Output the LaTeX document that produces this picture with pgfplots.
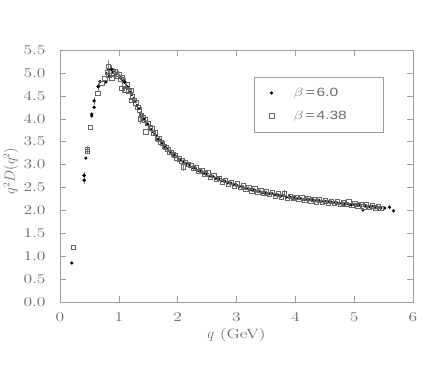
\documentclass[border=0pt]{standalone}
\usepackage{fontspec}
\setmainfont{Latin Modern Roman}[FakeStretch=1.3]
\newfontfamily\legfont{Liberation Sans}[FakeStretch=1.3]
\usepackage{pgfplots}
\pgfplotsset{compat=1.18}
\definecolor{axgray}{gray}{0.62}
\definecolor{txtgray}{gray}{0.42}
\definecolor{sqgray}{gray}{0.4}
\pgfplotsset{
    dotstyle/.style={only marks, mark=*, mark size=1.4bp, black},
    sqstyle/.style={only marks, mark=square, mark size=2.2bp, sqgray, mark options={line width=0.5bp}},
    errstyle/.style={error bars/.cd, y dir=both, y explicit,
        error bar style={gray, line width=0.4bp}, error mark options={gray, mark size=1.6bp, line width=0.4bp}},
}
\newcommand{\legb}[1]{\makebox[72bp][l]{\scalebox{1.35}[1]{$\beta$}\,=\,#1}}
\begin{document}
\begin{tikzpicture}
\begin{axis}[
    scale only axis,
    width=353bp, height=252bp,
    xmin=0, xmax=6, ymin=0, ymax=5.5,
    xtick={0,1,2,3,4,5,6},
    ytick={0,0.5,1,1.5,2,2.5,3,3.5,4,4.5,5,5.5},
    tick align=inside,
    major tick length=6bp,
    axis line style={axgray},
    every tick/.style={axgray},
    /pgf/number format/assume math mode=true,
    every tick label/.append style={font=\fontsize{13.5}{15}\selectfont, text=txtgray},
    xticklabel style={yshift=-7bp},
    yticklabel style={xshift=-11bp, /pgf/number format/.cd, fixed, fixed zerofill, precision=1},
    label style={font=\fontsize{13.5}{15}\selectfont, text=txtgray},
    xlabel={$q$ (GeV)},
    ylabel={$q^2D(q^2)$},
    xlabel style={at={(axis description cs:0.5,-0.13)}, anchor=center},
    ylabel style={at={(axis description cs:-0.139,0.52)}, anchor=center},
    legend style={at={(0.55,0.893)}, anchor=north west, draw=axgray,
        font=\legfont\fontsize{12}{14}\selectfont, text=txtgray,
        inner xsep=15bp, inner ysep=9bp, row sep=9bp,
        /tikz/every odd column/.append style={column sep=18bp}},
    legend cell align=left,
]
% beta = 6.0
\addplot[dotstyle] coordinates {
(0.20,0.85) (0.41,2.66) (0.41,2.76) (0.44,3.14) (0.54,4.06) (0.54,4.10)
(0.58,4.25) (0.58,4.39) (0.65,4.70) (0.68,4.81) (0.78,4.80)
(0.79,4.98) (0.82,5.07) (0.84,4.93) (0.87,5.08) (0.90,5.02) (0.92,5.06)
(0.95,4.97) (0.98,5.01) (1.01,4.92) (1.04,4.90) (1.07,4.84) (1.10,4.80)
(1.13,4.71) (1.16,4.68) (1.19,4.58) (1.22,4.53) (1.25,4.44) (1.28,4.38)
(1.31,4.29) (1.34,4.22) (1.37,4.12) (1.40,4.06) (1.43,3.99) (1.46,3.93)
(1.49,3.88) (1.52,3.83) (1.55,3.76) (1.58,3.72) (1.61,3.66) (1.64,3.62)
(1.67,3.55) (1.70,3.53) (1.73,3.46) (1.76,3.43) (1.79,3.38) (1.82,3.35)
(1.85,3.30) (1.88,3.28) (1.91,3.24) (1.94,3.21) (1.97,3.17) (2.00,3.16)
(2.05,3.10) (2.10,3.07) (2.15,3.01) (2.20,2.99) (2.25,2.94) (2.30,2.92)
(2.35,2.87) (2.40,2.86) (2.45,2.81) (2.50,2.80) (2.55,2.75) (2.60,2.74)
(2.65,2.70) (2.70,2.69) (2.75,2.65) (2.80,2.64) (2.85,2.60) (2.90,2.60)
(2.95,2.56) (3.00,2.56) (3.05,2.52) (3.10,2.52) (3.15,2.48) (3.20,2.48)
(3.25,2.45) (3.30,2.45) (3.35,2.42) (3.40,2.42) (3.45,2.39) (3.50,2.39)
(3.55,2.36) (3.60,2.37) (3.65,2.34) (3.70,2.34) (3.75,2.31) (3.80,2.32)
(3.85,2.29) (3.90,2.30) (3.95,2.27) (4.00,2.28) (4.05,2.26) (4.10,2.26)
(4.15,2.24) (4.20,2.25) (4.25,2.23) (4.30,2.23) (4.35,2.21) (4.40,2.22)
(4.45,2.20) (4.50,2.20) (4.55,2.18) (4.60,2.19) (4.65,2.17) (4.70,2.17)
(4.75,2.15) (4.80,2.16) (4.85,2.14) (4.90,2.14) (4.95,2.12) (5.00,2.13)
(5.05,2.11) (5.10,2.11) (5.15,2.01) (5.20,2.10) (5.25,2.08) (5.30,2.09)
(5.35,2.06) (5.40,2.07) (5.45,2.05) (5.52,2.05) (5.60,2.07) (5.67,1.99)
};
\addlegendentry{\legb{6.0}}
% beta = 4.38
\addplot[sqstyle] coordinates {
(0.23,1.19) (0.46,3.33) (0.46,3.29) (0.51,3.81) (0.64,4.56) (0.71,4.78)
(0.82,5.15)
(0.76,4.88) (0.80,5.02) (0.83,4.95) (0.86,5.05) (0.88,4.88) (0.91,5.00)
(0.94,5.04) (0.97,4.93) (1.00,4.97) (1.03,4.86) (1.05,4.66) (1.06,4.91)
(1.09,4.74) (1.12,4.62) (1.14,4.74) (1.17,4.60) (1.20,4.62) (1.22,4.40)
(1.23,4.48) (1.26,4.40) (1.29,4.35) (1.32,4.25) (1.35,4.20) (1.36,4.00)
(1.38,4.08) (1.41,4.02) (1.44,3.98) (1.46,3.72) (1.49,3.90) (1.53,3.80)
(1.56,3.79) (1.59,3.68) (1.62,3.70) (1.65,3.58) (1.68,3.56) (1.71,3.49)
(1.74,3.47) (1.77,3.40) (1.80,3.38) (1.83,3.33) (1.86,3.27) (1.89,3.27)
(1.92,3.22) (1.95,3.20) (1.98,3.14)
(2.03,3.13) (2.07,3.08) (2.09,2.95) (2.12,3.05) (2.17,3.00) (2.22,2.98)
(2.26,2.92) (2.31,2.93) (2.36,2.86) (2.41,2.87) (2.46,2.80) (2.51,2.82)
(2.55,2.72) (2.61,2.76) (2.66,2.68) (2.71,2.70) (2.76,2.62) (2.81,2.66)
(2.86,2.58) (2.91,2.62) (2.96,2.54) (3.01,2.58) (3.06,2.50) (3.11,2.54)
(3.16,2.46) (3.21,2.50) (3.26,2.43) (3.31,2.47) (3.36,2.40) (3.41,2.44)
(3.46,2.37) (3.51,2.41) (3.56,2.35) (3.61,2.39) (3.66,2.32) (3.71,2.36)
(3.76,2.30) (3.81,2.37) (3.86,2.27) (3.91,2.31) (3.96,2.26) (4.01,2.29)
(4.06,2.24) (4.11,2.28) (4.16,2.22) (4.21,2.26) (4.26,2.21) (4.31,2.24)
(4.36,2.19) (4.41,2.23) (4.46,2.18) (4.51,2.21) (4.56,2.17) (4.61,2.20)
(4.66,2.15) (4.71,2.19) (4.76,2.14) (4.81,2.17) (4.86,2.13) (4.91,2.20)
(4.96,2.11) (5.01,2.15) (5.06,2.10) (5.11,2.13) (5.16,2.08) (5.21,2.12)
(5.26,2.07) (5.31,2.10) (5.36,2.06) (5.41,2.09) (5.45,2.05)
};
\addlegendentry{\legb{4.38}}
% error bars on the points where they show
\addplot[dotstyle, forget plot, errstyle] coordinates {
(0.41,2.66) +- (0,0.04) (0.41,2.76) +- (0,0.04) (0.58,4.39) +- (0,0.06)
(0.65,4.70) +- (0,0.05) (0.87,5.08) +- (0,0.06) (1.10,4.80) +- (0,0.05)
};
\addplot[sqstyle, forget plot, errstyle] coordinates {
(0.46,3.33) +- (0,0.05) (0.82,5.15) +- (0,0.10) (1.05,4.66) +- (0,0.06)
(1.36,4.00) +- (0,0.08) (2.09,2.95) +- (0,0.06) (3.81,2.37) +- (0,0.05)
};
\end{axis}
\pgfresetboundingbox
\path ([shift={(-60bp,-66bp)}]current axis.south west) rectangle ([shift={(19bp,50bp)}]current axis.north east);
\end{tikzpicture}
\end{document}
